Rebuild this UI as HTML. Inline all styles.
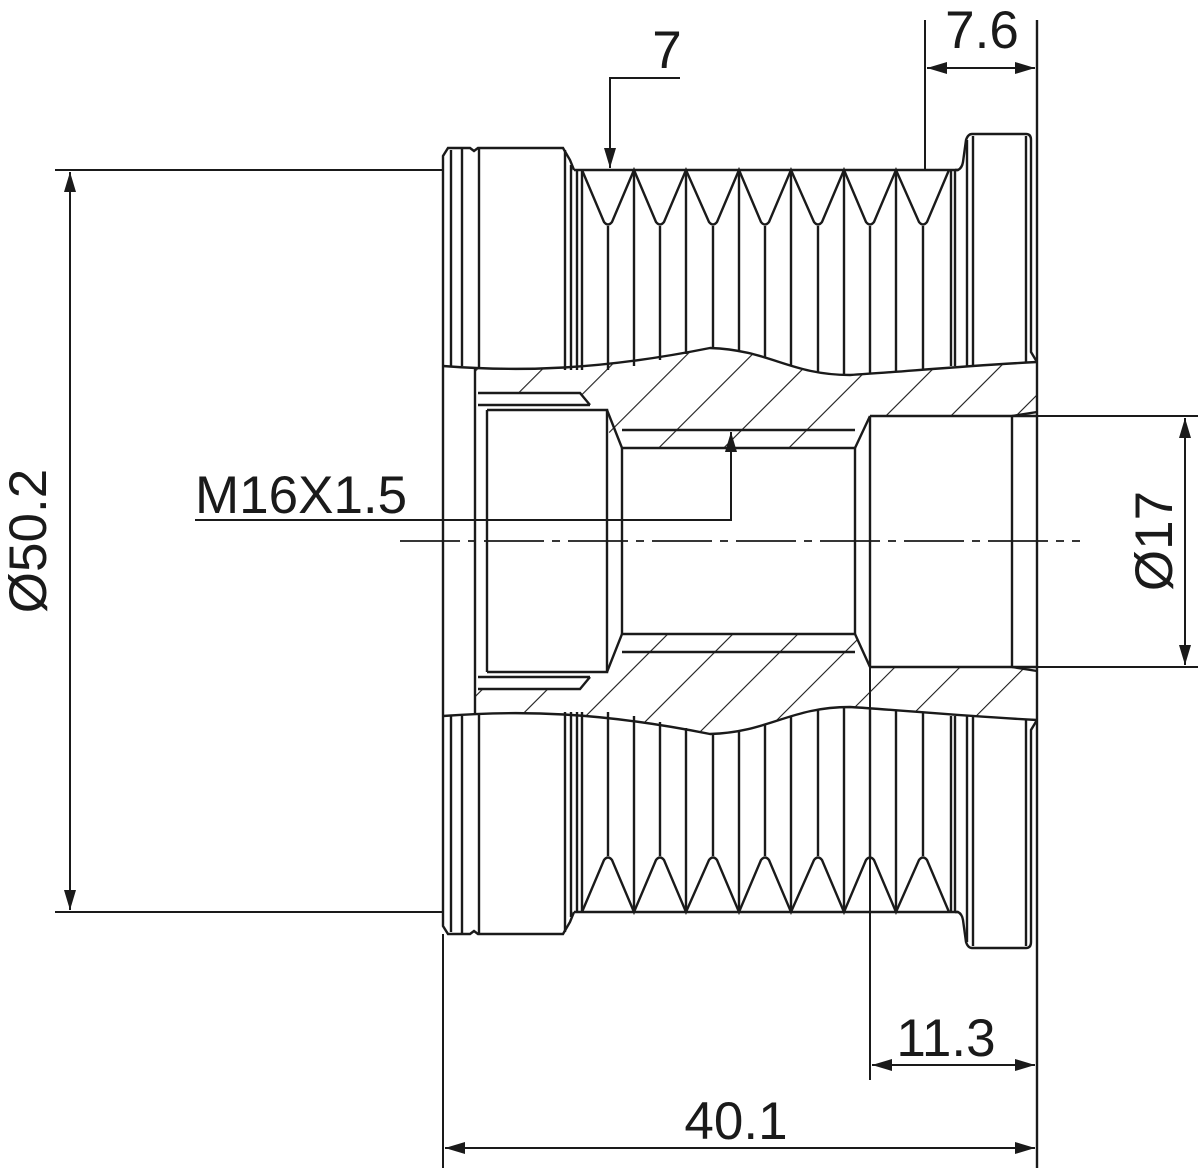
<!DOCTYPE html>
<html><head><meta charset="utf-8"><style>html,body{margin:0;padding:0;background:#fff}svg{display:block}</style></head><body>
<svg width="1200" height="1168" viewBox="0 0 1200 1168" xmlns="http://www.w3.org/2000/svg" font-family="Liberation Sans, sans-serif">
<defs>
<pattern id="h" patternUnits="userSpaceOnUse" width="46" height="46" patternTransform="rotate(45)">
<line x1="0" y1="0" x2="0" y2="46" stroke="#1a1a1a" stroke-width="2.2"/>
</pattern>
<clipPath id="sec">
<path d="M475,368 C540,372 600,370 710,348 C770,350 790,375 850,375 C900,372 960,366 1037,362 L1037,720 C960,716 900,710 850,707 C790,707 770,734 710,734 C600,712 540,710 475,714 Z"/>
</clipPath>
<marker id="a" viewBox="0 0 20 12" refX="20" refY="6" markerWidth="20" markerHeight="12" markerUnits="userSpaceOnUse" orient="auto-start-reverse"><path d="M0,0 L20,6 L0,12 Z" fill="#1a1a1a"/></marker>
</defs>
<g stroke="#1a1a1a" stroke-width="2.4" fill="none">
<rect x="443" y="340" width="594" height="400" fill="url(#h)" stroke="none" clip-path="url(#sec)"/>
<path d="M475,393 L580,393 L590,405 L607,410 L607,430 L622,448 L855,448 L870,416 L1037,416 L1037,667 L870,667 L855,634 L622,634 L607,652 L607,672 L590,677 L580,689 L475,689 Z" fill="#fff" stroke="none"/>
<path d="M443,366 C520,372 600,370 710,348 C770,350 790,375 850,375 C900,372 960,366 1037,362"/>
<path d="M443,716 C520,710 600,712 710,734 C770,732 790,707 850,707 C900,710 960,716 1037,720"/>
<line x1="475" y1="368" x2="475" y2="714"/>
<line x1="487" y1="410" x2="487" y2="672"/>
<path d="M478,393 L580,393 L590,405 M478,405 L590,405 M487,410 L607,410 L607,672 L487,672 M478,689 L580,689 L590,677 M478,677 L590,677"/>
<path d="M607,410 L622,448 L855,448 L870,416 M607,672 L622,634 L855,634 L870,667"/>
<line x1="622" y1="430" x2="855" y2="430"/><line x1="622" y1="652" x2="855" y2="652"/>
<line x1="622" y1="448" x2="622" y2="634"/><line x1="855" y1="448" x2="855" y2="634"/>
<line x1="870" y1="416" x2="1037" y2="416"/><line x1="870" y1="667" x2="1037" y2="667"/>
<line x1="870" y1="416" x2="870" y2="667"/><line x1="1012" y1="416" x2="1012" y2="667"/>
<path d="M1012,416 L1037,412 M1012,667 L1037,671"/>
<path d="M443,366 L443,156 L448,148 L470,148 L474,151 L478,148 L563,148 L570,160 L574,170"/>
<path d="M443,716 L443,926 L448,934 L470,934 L474,931 L478,934 L563,934 L570,922 L574,912"/>
<line x1="443" y1="366" x2="443" y2="716"/>
<g>
<line x1="451" y1="150" x2="451" y2="366"/><line x1="462" y1="148" x2="462" y2="366"/><line x1="479" y1="148" x2="479" y2="368"/><line x1="565" y1="150" x2="565" y2="370"/><line x1="571" y1="165" x2="571" y2="370"/><line x1="577" y1="170" x2="577" y2="370"/><line x1="582" y1="170" x2="582" y2="370"/>
<line x1="451" y1="932" x2="451" y2="716"/><line x1="462" y1="934" x2="462" y2="716"/><line x1="479" y1="934" x2="479" y2="714"/><line x1="565" y1="932" x2="565" y2="712"/><line x1="571" y1="917" x2="571" y2="712"/><line x1="577" y1="912" x2="577" y2="712"/><line x1="582" y1="912" x2="582" y2="712"/>
</g>
<line x1="574" y1="170" x2="958" y2="170"/><line x1="574" y1="912" x2="958" y2="912"/>
<path d="M582,170 L604,222 Q608,227 612,222 L634,170 L656,222 Q660,227 664,222 L686,170 L709,222 Q713,227 717,222 L739,170 L761,222 Q765,227 769,222 L791,170 L814,222 Q818,227 822,222 L844,170 L866,222 Q870,227 874,222 L896,170 L919,222 Q923,227 927,222 L949,170"/>
<path d="M582,912 L604,860 Q608,855 612,860 L634,912 L656,860 Q660,855 664,860 L686,912 L709,860 Q713,855 717,860 L739,912 L761,860 Q765,855 769,860 L791,912 L814,860 Q818,855 822,860 L844,912 L866,860 Q870,855 874,860 L896,912 L919,860 Q923,855 927,860 L949,912"/>
<g>
<line x1="608" y1="226" x2="608" y2="370"/><line x1="634" y1="170" x2="634" y2="366"/><line x1="660" y1="226" x2="660" y2="360"/><line x1="686" y1="170" x2="686" y2="354"/><line x1="713" y1="226" x2="713" y2="348"/><line x1="739" y1="170" x2="739" y2="351"/><line x1="765" y1="226" x2="765" y2="358"/><line x1="791" y1="170" x2="791" y2="366"/><line x1="818" y1="226" x2="818" y2="372"/><line x1="844" y1="170" x2="844" y2="375"/><line x1="870" y1="226" x2="870" y2="373"/><line x1="896" y1="170" x2="896" y2="371"/><line x1="923" y1="226" x2="923" y2="369"/><line x1="951" y1="170" x2="951" y2="366"/><line x1="955" y1="170" x2="955" y2="366"/>
<line x1="608" y1="856" x2="608" y2="712"/><line x1="634" y1="912" x2="634" y2="716"/><line x1="660" y1="856" x2="660" y2="722"/><line x1="686" y1="912" x2="686" y2="728"/><line x1="713" y1="856" x2="713" y2="734"/><line x1="739" y1="912" x2="739" y2="731"/><line x1="765" y1="856" x2="765" y2="724"/><line x1="791" y1="912" x2="791" y2="716"/><line x1="818" y1="856" x2="818" y2="710"/><line x1="844" y1="912" x2="844" y2="707"/><line x1="870" y1="856" x2="870" y2="709"/><line x1="896" y1="912" x2="896" y2="711"/><line x1="923" y1="856" x2="923" y2="713"/><line x1="951" y1="912" x2="951" y2="716"/><line x1="955" y1="912" x2="955" y2="716"/>
</g>
<path d="M955,170 L958,170 Q962,168 963,162 L966,140 Q968,134 972,134 L1026,134 Q1031,134 1031,140 L1031,352 L1037,362"/>
<path d="M955,912 L958,912 Q962,914 963,920 L966,942 Q968,948 972,948 L1026,948 Q1031,948 1031,942 L1031,730 L1037,720"/>
<line x1="967" y1="140" x2="967" y2="366"/><line x1="973" y1="136" x2="973" y2="366"/><line x1="1026" y1="136" x2="1026" y2="362"/>
<line x1="967" y1="942" x2="967" y2="716"/><line x1="973" y1="946" x2="973" y2="716"/><line x1="1026" y1="946" x2="1026" y2="720"/>
<line x1="1037" y1="20" x2="1037" y2="1168"/>
<line x1="400" y1="541" x2="1080" y2="541" stroke-width="1.8" stroke-dasharray="60,8,8,8"/>
<g stroke-width="2">
<line x1="55" y1="170" x2="443" y2="170"/><line x1="55" y1="912" x2="443" y2="912"/>
<line x1="70" y1="172" x2="70" y2="910" marker-start="url(#a)" marker-end="url(#a)"/>
<line x1="1037" y1="416" x2="1198" y2="416"/><line x1="1037" y1="667" x2="1198" y2="667"/>
<line x1="1185" y1="418" x2="1185" y2="665" marker-start="url(#a)" marker-end="url(#a)"/>
<line x1="925" y1="20" x2="925" y2="170"/>
<line x1="927" y1="68" x2="1035" y2="68" marker-start="url(#a)" marker-end="url(#a)"/>
<path d="M680,78 L610,78 L610,168" marker-end="url(#a)"/>
<path d="M195,520 L731,520 L731,432" marker-end="url(#a)"/>
<line x1="870" y1="667" x2="870" y2="1080"/>
<line x1="872" y1="1065" x2="1035" y2="1065" marker-start="url(#a)" marker-end="url(#a)"/>
<line x1="443" y1="934" x2="443" y2="1168"/>
<line x1="445" y1="1148" x2="1035" y2="1148" marker-start="url(#a)" marker-end="url(#a)"/>
</g>
</g>
<g fill="#1a1a1a" font-size="53">
<text x="982" y="48" text-anchor="middle">7.6</text>
<text x="667" y="68" text-anchor="middle">7</text>
<text x="195" y="513">M16X1.5</text>
<text x="946" y="1056" text-anchor="middle">11.3</text>
<text x="736" y="1139" text-anchor="middle">40.1</text>
<text transform="translate(46,541) rotate(-90)" text-anchor="middle">Ø50.2</text>
<text transform="translate(1172,541) rotate(-90)" text-anchor="middle">Ø17</text>
</g>
</svg>
</body></html>
